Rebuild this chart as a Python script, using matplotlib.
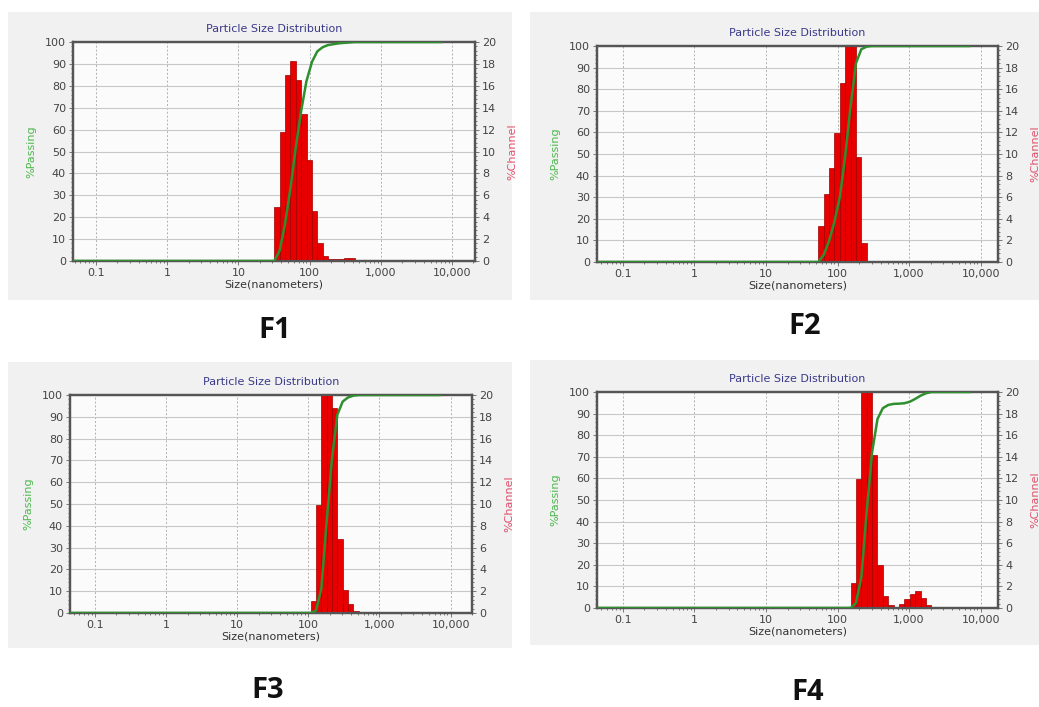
import matplotlib
matplotlib.use('Agg')
import matplotlib.pyplot as plt
from matplotlib.patches import Rectangle
from matplotlib.ticker import NullFormatter, MultipleLocator

W, H = 1039, 707

# channel edges (nm), ratio 2^(1/4) as used by the analyser
edges = [32, 38.1, 45.3, 53.8, 64, 76.1, 90.5, 107.6, 128, 152.2, 181, 215.3,
         256, 304.4, 362, 430.5, 512, 609, 724, 861, 1024, 1218, 1448, 1722,
         2048, 2435]

# %Channel per sample, first value sits in channel starting at edges[start]
f1_start = 0
f1_chan = [4.9, 11.8, 17.0, 18.3, 16.5, 13.4, 9.2, 4.6, 1.6, 0.45, 0.15, 0.15, 0.15, 0.3, 0.3]
f2_start = 3
f2_chan = [3.3, 6.3, 8.7, 11.9, 16.6, 21.0, 20.9, 9.7, 1.8]
f3_start = 7
f3_chan = [1.1, 9.9, 31.0, 29.0, 18.8, 6.8, 2.1, 0.8, 0.2]
f4_start = 9
f4_chan = [2.3, 11.9, 30.5, 30.5, 14.2, 4.0, 1.1, 0.25, 0.0, 0.37, 0.87, 1.33, 1.55, 0.96, 0.25]

# %Passing curves
f1_size = [0.04, 32, 38, 45, 54, 64, 76, 90, 108, 128, 152, 181, 256, 430, 7000]
f1_pass = [0, 0, 4.9, 16.7, 33.7, 52, 68.5, 82, 91, 95.7, 97.6, 98.6, 99.4, 100, 100]
f2_size = [0.04, 54, 64, 76, 90, 108, 128, 152, 181, 215, 256, 300, 7000]
f2_pass = [0, 0, 3.3, 9.6, 18.3, 30.2, 49, 72, 92, 98.5, 99.7, 100, 100]
f3_size = [0.04, 107.6, 128, 152, 181, 215, 256, 304, 362, 430, 512, 7000]
f3_pass = [0, 0, 1.1, 11, 42, 71, 91, 97, 98.9, 99.7, 100, 100]
f4_size = [0.04, 152, 181, 215, 256, 304, 362, 430, 512, 609, 724, 861, 1024,
           1218, 1448, 1722, 2048, 7000]
f4_pass = [0, 0, 2.3, 14.2, 44.7, 72, 87.5, 92.5, 94, 94.5, 94.6, 94.8, 95.5,
           96.8, 98.3, 99.4, 100, 100]

xticks = [0.1, 1, 10, 100, 1000, 10000]
xticklabels = ['0.1', '1', '10', '100', '1,000', '10,000']

panels = [
    # name, chan, start, size, pass, xlim, axes px (l, r, t, b), bg px (l, r, t, b), label pos
    ('F1', f1_chan, f1_start, f1_size, f1_pass, (0.0475, 21000), (73, 475, 42, 261), (8, 512, 12, 300), (275, 330)),
    ('F2', f2_chan, f2_start, f2_size, f2_pass, (0.0435, 17500), (597, 998, 46, 262), (530, 1039, 12, 300), (805, 327)),
    ('F3', f3_chan, f3_start, f3_size, f3_pass, (0.0445, 20000), (70, 472, 395, 613), (8, 512, 362, 648), (268, 690)),
    ('F4', f4_chan, f4_start, f4_size, f4_pass, (0.0435, 17500), (597, 998, 392, 608), (530, 1039, 360, 645), (808, 692)),
]

fig = plt.figure(figsize=(W / 100, H / 100), dpi=100)
fig.patch.set_facecolor('white')

for name, chan, start, size, pas, xl, (l, r, t, b), (bl, br, bt, bb), (lx, ly) in panels:
    # grey chart background
    fig.patches.append(Rectangle((bl / W, 1 - bb / H), (br - bl) / W, (bb - bt) / H,
                                 transform=fig.transFigure, facecolor='#f1f1f1',
                                 edgecolor='none', zorder=0))

    ax2 = fig.add_axes([l / W, 1 - b / H, (r - l) / W, (b - t) / H])
    ax = ax2.twinx()
    # left axis (%Passing) on top so the green line covers the bars
    ax.yaxis.set_label_position('left')
    ax.yaxis.tick_left()
    ax2.yaxis.set_label_position('right')
    ax2.yaxis.tick_right()
    ax.set_zorder(3)
    ax2.set_zorder(2)
    ax.patch.set_visible(False)
    ax2.set_facecolor('#fbfbfb')

    lo = edges[start:start + len(chan)]
    hi = edges[start + 1:start + len(chan) + 1]
    widths = [h - lo_ for lo_, h in zip(lo, hi)]
    ax2.bar(lo, chan, width=widths, align='edge', color='#e80000',
            edgecolor='#a00000', linewidth=0.5, zorder=3)

    ax.plot(size, pas, color='#2f8f2f', lw=1.8, zorder=4)

    for a in (ax, ax2):
        a.set_xscale('log')
        a.set_xlim(*xl)
    ax.set_ylim(0, 100)
    ax2.set_ylim(0, 20)

    ax.set_yticks(range(0, 101, 10))
    ax2.set_yticks(range(0, 21, 2))
    ax.yaxis.set_minor_locator(MultipleLocator(2))
    ax2.yaxis.set_minor_locator(MultipleLocator(0.4))
    ax2.set_xticks(xticks)
    ax2.set_xticklabels(xticklabels)
    ax2.xaxis.set_minor_formatter(NullFormatter())

    ax2.grid(axis='y', color='#c8c8c8', lw=0.8, zorder=0)
    ax2.grid(axis='x', which='major', color='#b0b0b0', lw=0.7, ls=(0, (2, 2)), zorder=0)
    ax2.set_axisbelow(True)

    for a in (ax, ax2):
        for s in a.spines.values():
            s.set_color('#555555')
            s.set_linewidth(1.6)
        a.tick_params(which='both', colors='#777777', labelcolor='#444444',
                      labelsize=8, length=3, width=0.7, pad=2)
        a.tick_params(which='minor', length=1.5)

    ax.set_ylabel('%Passing', color='#4cb84c', fontsize=8, labelpad=6)
    ax2.set_ylabel('%Channel', color='#e0506a', fontsize=8, labelpad=8)
    ax2.set_xlabel('Size(nanometers)', color='#333333', fontsize=8, labelpad=1)
    ax2.set_title('Particle Size Distribution', color='#3a3a8a', fontsize=8, pad=7)

    fig.text(lx / W, 1 - ly / H, name, ha='center', va='center', fontsize=21,
             fontweight='bold', family='Open Sans', color='#111111')

fig.savefig('out.png', dpi=100)
